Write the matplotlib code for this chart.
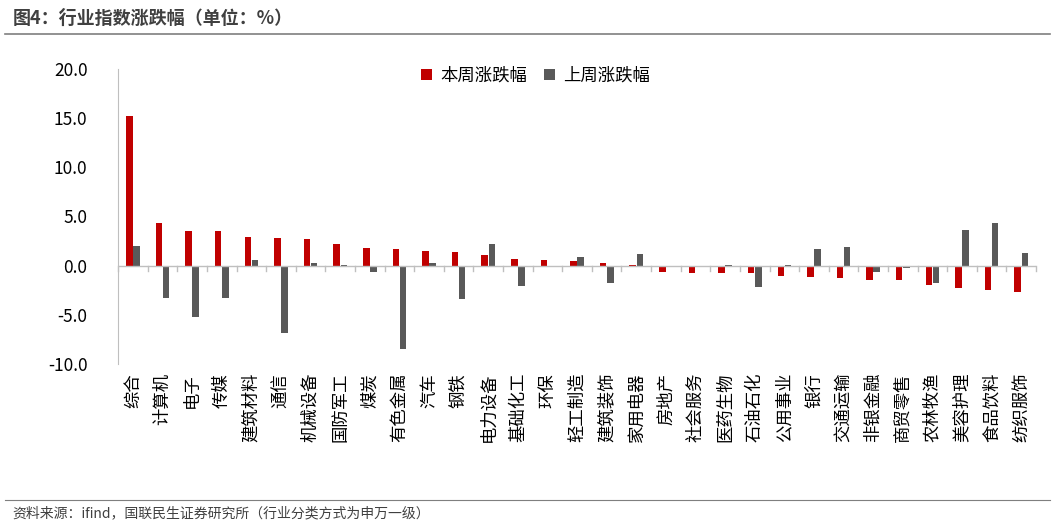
import matplotlib
matplotlib.use("Agg")
import matplotlib.pyplot as plt
import numpy as np

plt.rcParams['font.family'] = ['Noto Sans CJK SC', 'DejaVu Sans']

categories = ["综合","计算机","电子","传媒","建筑材料","通信","机械设备","国防军工","煤炭","有色金属",
              "汽车","钢铁","电力设备","基础化工","环保","轻工制造","建筑装饰","家用电器","房地产","社会服务",
              "医药生物","石油石化","公用事业","银行","交通运输","非银金融","商贸零售","农林牧渔","美容护理","食品饮料","纺织服饰"]
this_week = [15.2,4.3,3.5,3.5,2.9,2.8,2.7,2.2,1.8,1.7,1.5,1.4,1.1,0.7,0.6,0.5,0.3,0.1,-0.6,-0.7,
             -0.7,-0.8,-1.1,-1.2,-1.3,-1.5,-1.5,-2.0,-2.3,-2.5,-2.7]
last_week = [2.0,-3.3,-5.2,-3.3,0.6,-6.9,0.3,0.1,-0.6,-8.5,0.3,-3.4,2.2,-2.1,0.0,0.9,-1.8,1.2,0.0,0.0,
             0.1,-2.2,0.1,1.7,1.9,-0.6,-0.2,-1.8,3.6,4.3,1.3]
yticks = [-10,-5,0,5,10,15,20]

fig = plt.figure(figsize=(10.55,5.26), dpi=100)
ax = fig.add_axes([0.112, 0.308, 0.87, 0.561])
x = np.arange(len(categories))
w = 0.22
ax.bar(x-w/2-0.01, this_week, w, color='#C00000', label='本周涨跌幅')
ax.bar(x+w/2+0.01, last_week, w, color='#595959', label='上周涨跌幅')
ax.set_ylim(-10,20)
ax.set_xlim(-0.5, len(categories)-0.5)
ax.set_yticks(yticks)
ax.set_yticklabels([f"{v:.1f}" for v in yticks], fontsize=12.5)
ax.tick_params(axis='y', length=0, pad=22)
ax.set_xticks([])
for s in ['top','right','bottom']:
    ax.spines[s].set_visible(False)
ax.spines['left'].set_color('#bfbfbf')
ax.axhline(0, color='#bfbfbf', lw=1)
for i in range(len(categories)+1):
    ax.plot([i-0.5,i-0.5],[0,-0.5], color='#bfbfbf', lw=1, clip_on=False)
for i, c in enumerate(categories):
    ax.text(i, -10.9, c, rotation=90, ha='center', va='top', fontsize=12.5)
ax.legend(loc='upper center', bbox_to_anchor=(0.455, 1.06), ncol=2, frameon=False, fontsize=12.5,
          handlelength=0.6, handleheight=0.6, columnspacing=1.0, handletextpad=0.5)

fig.text(0.012, 0.965, "图4：行业指数涨跌幅（单位：%）", fontsize=13, fontweight='bold', color='#404040', va='center')
fig.add_artist(plt.Line2D([0.005,0.995],[0.935,0.935], color='#7f7f7f', lw=1.2))
fig.add_artist(plt.Line2D([0.005,0.995],[0.05,0.05], color='#7f7f7f', lw=0.8))
fig.text(0.012, 0.025, "资料来源：ifind，国联民生证券研究所（行业分类方式为申万一级）", fontsize=10, color='#404040', va='center')
fig.savefig("out.png", dpi=100)
